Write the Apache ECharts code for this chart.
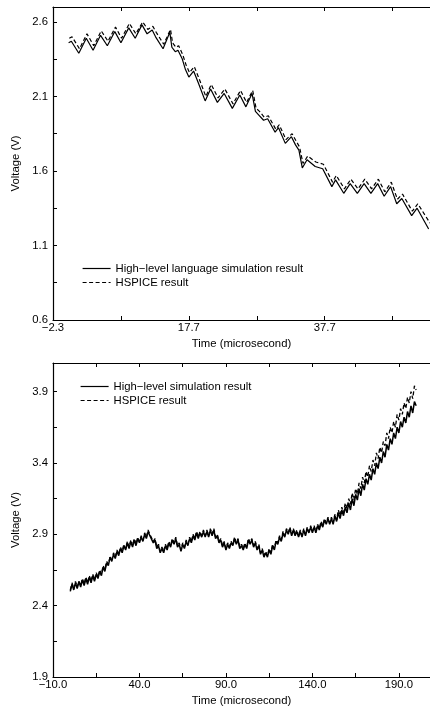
<!DOCTYPE html>
<html>
<head>
<meta charset="utf-8">
<script src="https://cdn.jsdelivr.net/npm/echarts@6/dist/echarts.min.js"></script>
<style>
  html, body { margin: 0; padding: 0; background: #fff; }
  #chart { width: 430px; height: 708px; }
</style>
</head>
<body>
<div id="chart"></div>
<script>
// top plot: time (us) and voltage read at the corners of the sawtooth
var topTime = [0.0, 0.4, 1.5, 2.6, 3.6, 4.7, 5.7, 6.8, 7.7, 8.85, 9.8, 10.8, 11.55, 12.3, 12.8, 13.9, 14.9, 15.2, 15.7, 16.1,
    16.7, 17.2, 17.7, 18.4, 19.1, 20.1, 20.9, 21.9, 22.9, 24.1, 25.2, 26.1, 27.0, 27.5, 28.0, 28.7, 29.3, 30.4, 30.9, 31.9,
    32.8, 33.4, 33.9, 34.4, 35.1, 36.3, 37.4, 38.75, 39.3, 40.5, 41.45, 42.5, 43.5, 44.5, 45.5, 46.45, 47.4, 48.3, 49.05, 50.5,
    51.3, 53.0];
var topSim = [2.46, 2.47, 2.39, 2.49, 2.41, 2.51, 2.44, 2.535, 2.46, 2.56, 2.49, 2.58, 2.52, 2.545, 2.50, 2.42, 2.53, 2.43, 2.40, 2.41,
    2.355, 2.28, 2.23, 2.27, 2.19, 2.07, 2.15, 2.06, 2.12, 2.02, 2.11, 2.03, 2.12, 2.00, 1.975, 1.94, 1.95, 1.86, 1.89, 1.785,
    1.83, 1.775, 1.74, 1.62, 1.675, 1.63, 1.615, 1.495, 1.54, 1.45, 1.515, 1.45, 1.515, 1.45, 1.515, 1.43, 1.495, 1.38, 1.415, 1.30,
    1.35, 1.21];
var topSpiceTime = [0.1, 0.5, 1.6, 2.7, 3.7, 4.8, 5.8, 6.9, 7.8, 8.95, 9.9, 10.9, 11.65, 12.4, 12.9, 14.0, 15.0, 15.3, 15.8, 16.2,
    16.8, 17.3, 17.8, 18.5, 19.2, 20.2, 21.0, 22.0, 23.0, 24.2, 25.3, 26.2, 27.1, 27.6, 28.1, 28.8, 29.4, 30.5, 31.0, 32.0,
    32.9, 33.5, 34.0, 34.5, 35.2, 36.4, 37.5, 38.85, 39.4, 40.6, 41.55, 42.6, 43.6, 44.6, 45.6, 46.55, 47.5, 48.4, 49.15, 50.6,
    51.4, 53.2];
var topSpice = [2.49, 2.50, 2.42, 2.52, 2.44, 2.54, 2.47, 2.565, 2.49, 2.59, 2.52, 2.60, 2.55, 2.57, 2.53, 2.45, 2.55, 2.46, 2.43, 2.44,
    2.38, 2.31, 2.26, 2.30, 2.22, 2.10, 2.18, 2.09, 2.15, 2.05, 2.14, 2.06, 2.14, 2.02, 2.00, 1.96, 1.97, 1.88, 1.91, 1.81,
    1.85, 1.80, 1.76, 1.65, 1.70, 1.66, 1.645, 1.525, 1.57, 1.48, 1.545, 1.48, 1.545, 1.48, 1.545, 1.46, 1.525, 1.41, 1.445, 1.33,
    1.38, 1.25];

// bottom plot: one sample per microsecond
var botTime = [0, 1, 2, 3, 4, 5, 6, 7, 8, 9, 10, 11, 12, 13, 14, 15, 16, 17, 18, 19, 20, 21, 22, 23, 24, 25, 26, 27, 28, 29,
    30, 31, 32, 33, 34, 35, 36, 37, 38, 39, 40, 41, 42, 43, 44, 45, 46, 47, 48, 49, 50, 51, 52, 53, 54, 55, 56, 57, 58, 59,
    60, 61, 62, 63, 64, 65, 66, 67, 68, 69, 70, 71, 72, 73, 74, 75, 76, 77, 78, 79, 80, 81, 82, 83, 84, 85, 86, 87, 88, 89,
    90, 91, 92, 93, 94, 95, 96, 97, 98, 99, 100, 101, 102, 103, 104, 105, 106, 107, 108, 109, 110, 111, 112, 113, 114, 115, 116, 117, 118, 119,
    120, 121, 122, 123, 124, 125, 126, 127, 128, 129, 130, 131, 132, 133, 134, 135, 136, 137, 138, 139, 140, 141, 142, 143, 144, 145, 146, 147, 148, 149,
    150, 151, 152, 153, 154, 155, 156, 157, 158, 159, 160, 161, 162, 163, 164, 165, 166, 167, 168, 169, 170, 171, 172, 173, 174, 175, 176, 177, 178, 179,
    180, 181, 182, 183, 184, 185, 186, 187, 188, 189, 190, 191, 192, 193, 194, 195, 196, 197, 198, 199, 200];
var botSim = [2.50, 2.55, 2.51, 2.56, 2.52, 2.57, 2.53, 2.58, 2.54, 2.59, 2.55, 2.60, 2.56, 2.61, 2.57, 2.62, 2.59, 2.64, 2.61, 2.67,
    2.64, 2.70, 2.68, 2.74, 2.71, 2.76, 2.73, 2.78, 2.75, 2.80, 2.77, 2.82, 2.79, 2.84, 2.80, 2.85, 2.81, 2.86, 2.82, 2.87,
    2.84, 2.88, 2.85, 2.90, 2.87, 2.92, 2.89, 2.90, 2.84, 2.86, 2.80, 2.82, 2.77, 2.80, 2.77, 2.82, 2.79, 2.84, 2.81, 2.86,
    2.83, 2.87, 2.81, 2.83, 2.78, 2.83, 2.80, 2.85, 2.82, 2.87, 2.84, 2.89, 2.86, 2.91, 2.87, 2.91, 2.88, 2.92, 2.88, 2.92,
    2.88, 2.93, 2.89, 2.93, 2.87, 2.89, 2.84, 2.86, 2.81, 2.84, 2.79, 2.83, 2.80, 2.84, 2.82, 2.87, 2.83, 2.86, 2.80, 2.82,
    2.79, 2.83, 2.80, 2.86, 2.83, 2.86, 2.81, 2.84, 2.79, 2.82, 2.76, 2.79, 2.74, 2.77, 2.74, 2.79, 2.76, 2.82, 2.79, 2.85,
    2.83, 2.88, 2.85, 2.91, 2.88, 2.93, 2.90, 2.94, 2.89, 2.93, 2.89, 2.92, 2.88, 2.92, 2.88, 2.93, 2.89, 2.94, 2.91, 2.95,
    2.91, 2.95, 2.91, 2.96, 2.93, 2.98, 2.95, 3.00, 2.97, 3.01, 2.97, 3.01, 2.97, 3.03, 2.99, 3.05, 3.01, 3.07, 3.03, 3.09,
    3.05, 3.12, 3.07, 3.15, 3.10, 3.18, 3.14, 3.22, 3.17, 3.25, 3.21, 3.29, 3.25, 3.32, 3.28, 3.36, 3.32, 3.40, 3.36, 3.44,
    3.40, 3.48, 3.44, 3.53, 3.49, 3.57, 3.53, 3.61, 3.57, 3.65, 3.61, 3.69, 3.65, 3.72, 3.68, 3.76, 3.72, 3.80, 3.75, 3.83,
    3.80];
var botSpice = [2.51, 2.56, 2.52, 2.57, 2.53, 2.57, 2.54, 2.59, 2.55, 2.60, 2.56, 2.61, 2.57, 2.62, 2.58, 2.63, 2.60, 2.65, 2.62, 2.68,
    2.65, 2.71, 2.69, 2.74, 2.72, 2.77, 2.74, 2.79, 2.76, 2.81, 2.78, 2.83, 2.80, 2.85, 2.81, 2.86, 2.82, 2.87, 2.83, 2.88,
    2.85, 2.89, 2.86, 2.91, 2.88, 2.93, 2.90, 2.91, 2.85, 2.87, 2.81, 2.83, 2.78, 2.81, 2.78, 2.83, 2.80, 2.85, 2.82, 2.87,
    2.84, 2.88, 2.82, 2.84, 2.79, 2.84, 2.81, 2.86, 2.83, 2.88, 2.85, 2.90, 2.87, 2.92, 2.88, 2.92, 2.89, 2.93, 2.89, 2.93,
    2.89, 2.94, 2.90, 2.94, 2.88, 2.90, 2.85, 2.87, 2.82, 2.85, 2.80, 2.84, 2.81, 2.85, 2.83, 2.88, 2.84, 2.87, 2.81, 2.83,
    2.80, 2.84, 2.81, 2.87, 2.84, 2.87, 2.82, 2.85, 2.80, 2.83, 2.77, 2.80, 2.75, 2.78, 2.75, 2.80, 2.77, 2.83, 2.80, 2.86,
    2.84, 2.89, 2.86, 2.92, 2.89, 2.94, 2.91, 2.95, 2.90, 2.94, 2.90, 2.93, 2.89, 2.93, 2.89, 2.94, 2.90, 2.95, 2.92, 2.96,
    2.92, 2.96, 2.92, 2.97, 2.94, 2.99, 2.96, 3.01, 2.98, 3.02, 2.98, 3.02, 2.98, 3.04, 3.00, 3.07, 3.03, 3.09, 3.05, 3.12,
    3.08, 3.15, 3.11, 3.19, 3.14, 3.22, 3.18, 3.26, 3.22, 3.30, 3.26, 3.34, 3.30, 3.38, 3.34, 3.42, 3.38, 3.47, 3.43, 3.51,
    3.47, 3.55, 3.52, 3.61, 3.57, 3.65, 3.61, 3.69, 3.65, 3.74, 3.70, 3.78, 3.74, 3.82, 3.78, 3.86, 3.82, 3.90, 3.85, 3.94,
    3.91];

// axis ticks and labels
var topXLabels = [-2.3, 17.7, 37.7];
var topXTicks = [-2.3, 7.7, 17.7, 27.7, 37.7, 47.7];
var topYLabels = [0.6, 1.1, 1.6, 2.1, 2.6];
var topYTicks = [0.6, 0.85, 1.1, 1.35, 1.6, 1.85, 2.1, 2.35, 2.6];
var botXLabels = [-10, 40, 90, 140, 190];
var botXTicks = [-10, 15, 40, 65, 90, 115, 140, 165, 190];
var botYLabels = [1.9, 2.4, 2.9, 3.4, 3.9];
var botYTicks = [1.9, 2.15, 2.4, 2.65, 2.9, 3.15, 3.4, 3.65, 3.9];

var names = {
    topSim: 'High\u2212level language simulation result',
    botSim: 'High\u2212level simulation result',
    spice: 'HSPICE result'
};

function pairs(xs, ys) {
    return xs.map(function (x, i) { return [x, ys[i]]; });
}
function fmt(v) {
    return v.toFixed(1).replace('-', '\u2212');
}

var FONT = '"Liberation Sans", Arial, sans-serif';
var FS = 11.3;
var axisLine = { show: true, onZero: false, lineStyle: { color: '#000', width: 1.2 } };

function xAxis(grid, min, max, labels, ticks) {
    return {
        type: 'value', gridIndex: grid, min: min, max: max,
        name: 'Time (microsecond)', nameLocation: 'middle', nameGap: 18,
        nameTextStyle: { fontFamily: FONT, fontSize: FS, color: '#000' },
        axisLine: axisLine,
        axisTick: { inside: true, length: 4, customValues: ticks, lineStyle: { color: '#000', width: 1 } },
        axisLabel: { customValues: labels, formatter: fmt, margin: 2, fontFamily: FONT, fontSize: FS, color: '#000' },
        splitLine: { show: false }
    };
}
function topFrame(grid, min, max, ticks) {
    return {
        type: 'value', gridIndex: grid, min: min, max: max, position: 'top',
        axisLine: axisLine,
        axisTick: { inside: true, length: 4, customValues: ticks, lineStyle: { color: '#000', width: 1 } },
        axisLabel: { show: false },
        splitLine: { show: false }
    };
}
function yAxis(grid, min, max, labels, ticks) {
    return {
        type: 'value', gridIndex: grid, min: min, max: max,
        name: 'Voltage (V)', nameLocation: 'middle', nameGap: 31,
        nameTextStyle: { fontFamily: FONT, fontSize: FS, color: '#000' },
        axisLine: axisLine,
        axisTick: { inside: true, length: 4, customValues: ticks, lineStyle: { color: '#000', width: 1 } },
        axisLabel: { customValues: labels, formatter: fmt, margin: 5, fontFamily: FONT, fontSize: FS, color: '#000' },
        splitLine: { show: false }
    };
}
function line(name, x, y, data, dashed, width) {
    return {
        name: name, type: 'line', xAxisIndex: x, yAxisIndex: y,
        data: data, symbol: 'none', showSymbol: false,
        lineStyle: { color: '#000', width: width, type: dashed ? [4, 2.5] : 'solid' },
        itemStyle: { color: '#000' }
    };
}
function legend(items, left, top) {
    return {
        data: items, orient: 'vertical', left: left, top: top, padding: 0,
        itemWidth: 28, itemHeight: 11, itemGap: 3, selectedMode: false,
        itemStyle: { opacity: 0 },
        lineStyle: { width: 1.2 },
        textStyle: { fontFamily: FONT, fontSize: FS, color: '#000' }
    };
}

var chart = echarts.init(document.getElementById('chart'));
chart.setOption({
    animation: false,
    backgroundColor: '#fff',
    grid: [
        { left: 53, right: 0, top: 7, height: 313 },
        { left: 53, right: 0, top: 363, height: 314 }
    ],
    legend: [
        legend([names.topSim, names.spice], 82, 263),
        legend([names.botSim, names.spice], 80, 381)
    ],
    xAxis: [
        xAxis(0, -2.3, 53.2, topXLabels, topXTicks),
        topFrame(0, -2.3, 53.2, topXTicks),
        xAxis(1, -10, 208, botXLabels, botXTicks),
        topFrame(1, -10, 208, botXTicks)
    ],
    yAxis: [
        yAxis(0, 0.6, 2.7, topYLabels, topYTicks),
        yAxis(1, 1.9, 4.1, botYLabels, botYTicks)
    ],
    series: [
        line(names.topSim, 0, 0, pairs(topTime, topSim), false, 1.2),
        line(names.spice, 0, 0, pairs(topSpiceTime, topSpice), true, 1.2),
        line(names.botSim, 2, 1, pairs(botTime, botSim), false, 1.5),
        line(names.spice, 2, 1, pairs(botTime, botSpice), true, 1.3)
    ]
});
</script>
</body>
</html>
